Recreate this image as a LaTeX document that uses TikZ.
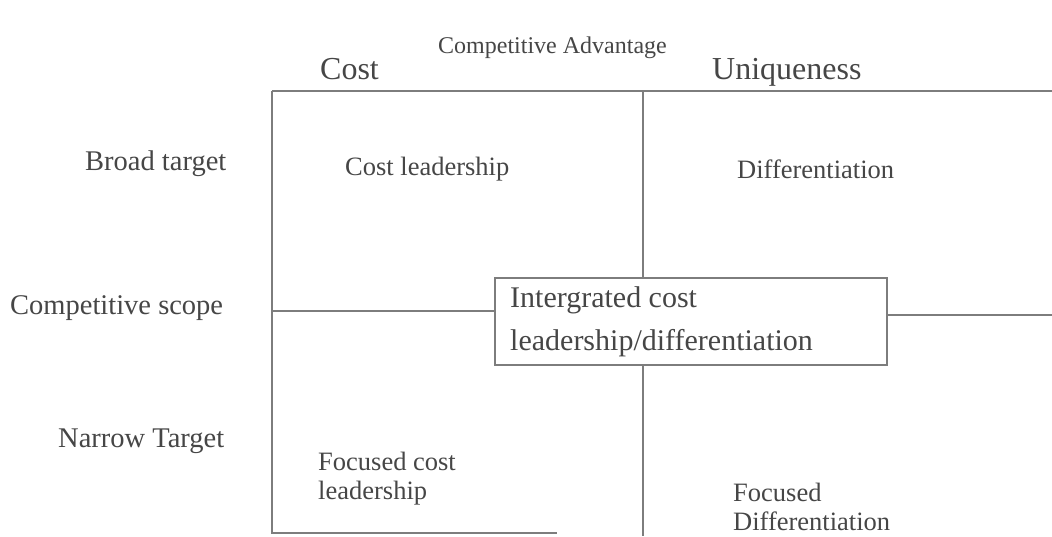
\documentclass[tikz,border=0pt]{standalone}
\usepackage{fontspec}
\setmainfont{Liberation Serif}
\definecolor{linegray}{RGB}{125,125,125}
\definecolor{textgray}{RGB}{70,70,70}
\tikzset{
  gridline/.style={draw=linegray, line width=1.8pt},
  lbl/.style={inner sep=0pt, anchor=base west, text=textgray, align=left},
  headfont/.style={font=\fontsize{24}{29}\selectfont},
  colfont/.style={font=\fontsize{32}{36}\selectfont},
  rowfont/.style={font=\fontsize{28.5}{33}\selectfont},
  cellfont/.style={font=\fontsize{26.5}{29}\selectfont},
  boxfont/.style={font=\fontsize{30}{43}\selectfont},
}
\begin{document}
\begin{tikzpicture}[x=1pt,y=-1pt]
\useasboundingbox (0,0) rectangle (1052,536);
% grid coordinates
\coordinate (TL) at (272,91);
\coordinate (TR) at (1052,91);
\coordinate (TM) at (643,91);
\coordinate (BL) at (272,533);
\coordinate (BLe) at (557,533);
\coordinate (BM) at (643,536);
\coordinate (ML) at (272,311);
\coordinate (MR) at (1052,315);
% central box
\node[draw=linegray, line width=1.8pt, minimum width=392pt, minimum height=87pt, inner sep=0pt] (intbox) at (691,321.5) {};
% lines
\draw[gridline] (TL) -- (TR);
\draw[gridline] (TL) -- (BL) -- (BLe);
\draw[gridline] (TM) -- (TM |- intbox.north);
\draw[gridline] (TM |- intbox.south) -- (BM);
\draw[gridline] (ML) -- (ML -| intbox.west);
\draw[gridline] (MR -| intbox.east) -- (MR);
% headings
\node[lbl, headfont] (adv) at (438,53) {Competitive Advantage};
\node[lbl, colfont] (cost) at (320,79) {Cost};
\node[lbl, colfont] (uniq) at (712,79) {Uniqueness};
\node[lbl, rowfont] (broad) at (85,170) {Broad target};
\node[lbl, rowfont] (scope) at (10,314) {Competitive scope};
\node[lbl, rowfont] (narrow) at (58,447) {Narrow Target};
% cells
\node[lbl, cellfont] (costlead) at (345,175) {Cost leadership};
\node[lbl, cellfont] (diff) at (737,178) {Differentiation};
\node[lbl, boxfont] (inttext) at (510,350) {Intergrated cost\\leadership/differentiation};
\node[lbl, cellfont] (focost) at (318,499) {Focused cost\\leadership};
\node[lbl, cellfont] (fodiff) at (733,530) {Focused\\Differentiation};
\end{tikzpicture}
\end{document}
